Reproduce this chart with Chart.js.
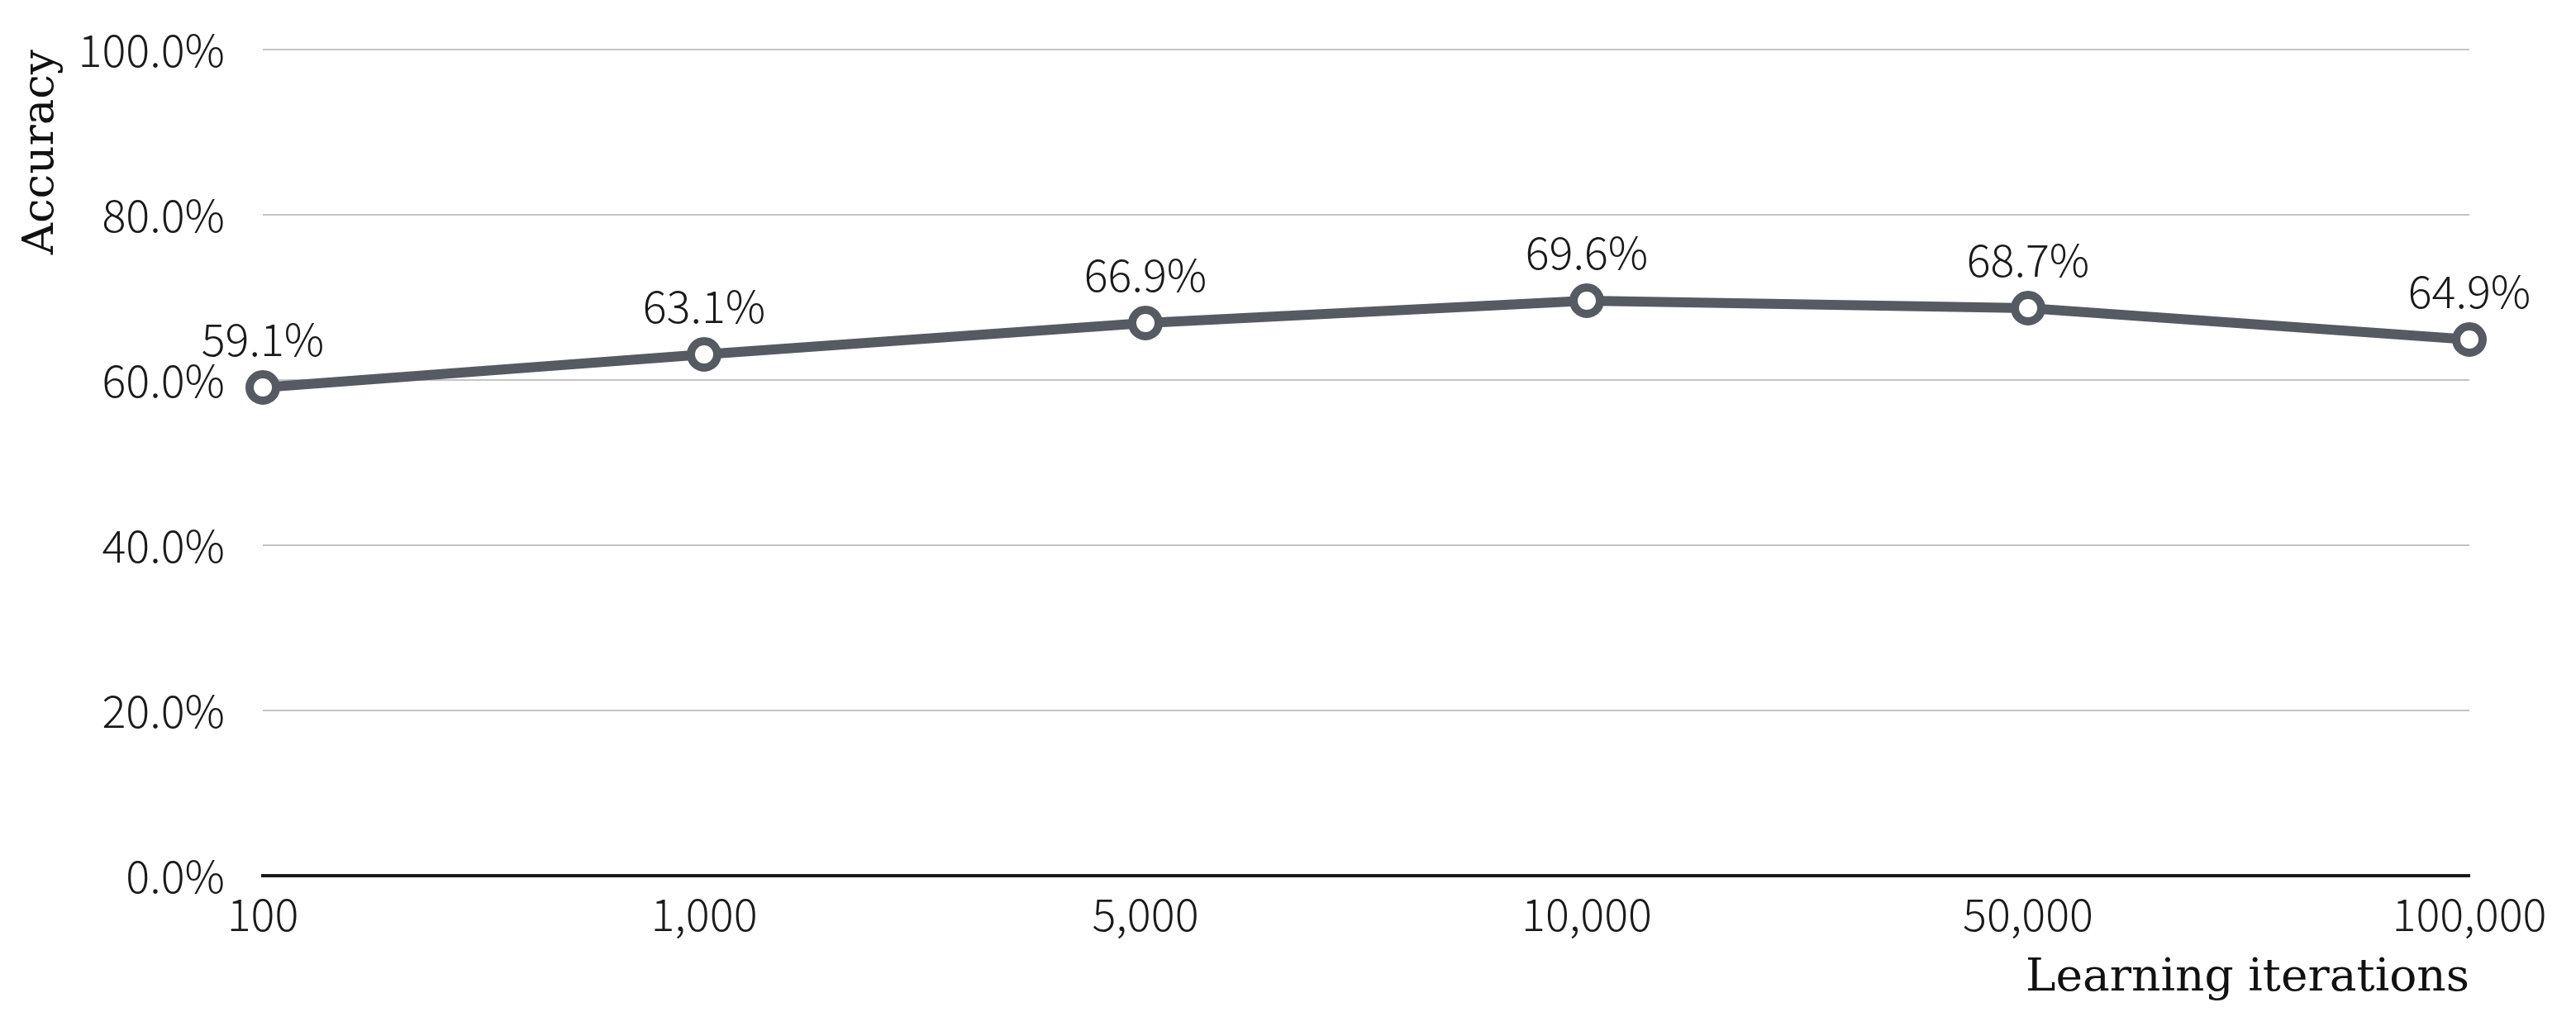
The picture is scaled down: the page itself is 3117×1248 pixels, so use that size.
<!DOCTYPE html>
<html>
<head>
<meta charset="utf-8">
<script src="https://cdn.jsdelivr.net/npm/chart.js@4"></script>
<style>
  html, body { margin: 0; padding: 0; background: #ffffff; }
  #wrap { width: 3117px; height: 1248px; }
</style>
</head>
<body>
<div id="wrap"><canvas id="c" width="3117" height="1248"></canvas></div>
<script>
const categories = ["100", "1,000", "5,000", "10,000", "50,000", "100,000"];
const accuracy = [59.1, 63.1, 66.9, 69.6, 68.7, 64.9];
const yTicks = [0, 20, 40, 60, 80, 100];
const xTitle = "Learning iterations";
const yTitle = "Accuracy";

const sansFont = "'Noto Sans CJK JP', 'Noto Sans', sans-serif";
const serifFont = "'DejaVu Serif', 'Liberation Serif', serif";
const lineColor = '#555a63';

const labelPlugin = {
  id: 'pointLabels',
  afterDatasetsDraw(chart) {
    const ctx = chart.ctx;
    const meta = chart.getDatasetMeta(0);
    ctx.save();
    ctx.font = "300 54px " + sansFont;
    ctx.fillStyle = '#1a1a1a';
    ctx.textAlign = 'center';
    ctx.textBaseline = 'alphabetic';
    meta.data.forEach((pt, i) => {
      const v = chart.data.datasets[0].data[i];
      ctx.fillText(v.toFixed(1) + '%', pt.x, pt.y - 38);
    });
    ctx.restore();
  }
};

new Chart(document.getElementById('c'), {
  type: 'line',
  data: {
    labels: categories,
    datasets: [{
      data: accuracy,
      borderColor: lineColor,
      borderWidth: 12,
      pointRadius: 16,
      pointBorderWidth: 10,
      pointBackgroundColor: '#ffffff',
      pointBorderColor: lineColor,
      tension: 0,
      fill: false
    }]
  },
  options: {
    responsive: false,
    animation: false,
    devicePixelRatio: 1,
    layout: { padding: { top: 60, right: 129, left: 0, bottom: 0 } },
    plugins: { legend: { display: false }, tooltip: { enabled: false } },
    scales: {
      x: {
        offset: false,
        grid: { display: false, drawTicks: false },
        border: { display: true, color: '#1a1a1a', width: 4 },
        ticks: {
          font: { family: sansFont, size: 54, weight: 300 },
          color: '#1a1a1a',
          padding: 14,
          maxRotation: 0,
          autoSkip: false
        },
        title: {
          display: true,
          text: xTitle,
          align: 'end',
          font: { family: serifFont, size: 55 },
          color: '#111111',
          padding: { top: 0, bottom: 30 }
        },
        afterFit(scale) {
          scale.height = 188;
          scale.paddingLeft = 0;
          scale.paddingRight = 0;
        }
      },
      y: {
        min: 0,
        max: 100,
        grid: { color: '#c4c4c4', lineWidth: 2, drawTicks: false },
        border: { display: false },
        afterBuildTicks(scale) {
          scale.ticks = yTicks.map(v => ({ value: v }));
        },
        ticks: {
          font: { family: sansFont, size: 54, weight: 300 },
          color: '#1a1a1a',
          padding: 46,
          callback: (v) => Number(v).toFixed(1) + '%'
        },
        title: {
          display: true,
          text: yTitle,
          align: 'end',
          font: { family: serifFont, size: 53 },
          color: '#111111',
          padding: { top: 18, bottom: 0 }
        },
        afterFit(scale) {
          scale.width = 318;
          scale.paddingTop = 0;
          scale.paddingBottom = 0;
        }
      }
    }
  },
  plugins: [labelPlugin]
});
</script>
</body>
</html>
